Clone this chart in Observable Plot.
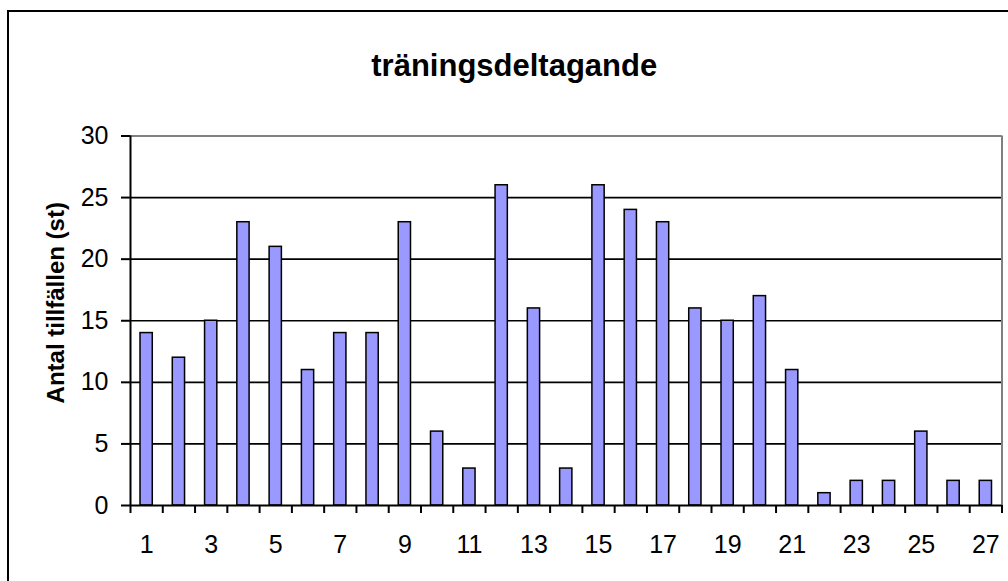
<!DOCTYPE html>
<html>
<head>
<meta charset="utf-8">
<script src="https://cdn.jsdelivr.net/npm/d3@7"></script>
<script src="https://cdn.jsdelivr.net/npm/@observablehq/plot@0.6"></script>
<style>
  html, body { margin: 0; padding: 0; background: #fff; }
  #wrap { position: relative; width: 1008px; height: 581px; overflow: hidden; }
  #frame { position: absolute; left: 7px; top: 10px; width: 1030px; height: 620px; border: 2px solid #000; box-sizing: border-box; pointer-events: none; }
  #chart { position: absolute; left: 0; top: 0; }
</style>
</head>
<body>
<div id="wrap"><div id="chart"></div><div id="frame"></div></div>
<script>
const title = "träningsdeltagande";
const yLabel = "Antal tillfällen (st)";
const categories = [1,2,3,4,5,6,7,8,9,10,11,12,13,14,15,16,17,18,19,20,21,22,23,24,25,26,27];
const values = [14,12,15,23,21,11,14,14,23,6,3,26,16,3,26,24,23,16,15,17,11,1,2,2,6,2,2];
const yTicks = [0,5,10,15,20,25,30];
const xLabels = [1,3,5,7,9,11,13,15,17,19,21,23,25,27];

const data = categories.map((c, i) => ({cat: c, v: values[i]}));
const boundaries = categories.map(c => c - 0.5).concat([categories[categories.length - 1] + 0.5]);
const halfBar = 0.19;

const chart = Plot.plot({
  width: 1008,
  height: 581,
  marginLeft: 130,
  marginRight: 6.5,
  marginTop: 135.5,
  marginBottom: 76,
  style: {fontFamily: "'Liberation Sans', Arial, sans-serif", fontSize: "24px", background: "transparent", color: "#000"},
  x: {type: "linear", domain: [0.5, 27.5]},
  y: {domain: [0, 30]},
  marks: [
    Plot.ruleY(yTicks.filter(t => t > 0 && t < 30), {stroke: "#000", strokeWidth: 1.6}),
    Plot.ruleY([30], {stroke: "#808080", strokeWidth: 2}),
    Plot.ruleX([27.5], {stroke: "#808080", strokeWidth: 2}),
    Plot.rectY(data, {x1: d => d.cat - halfBar, x2: d => d.cat + halfBar, y1: 0, y2: "v", fill: "#9999FF", stroke: "#000", strokeWidth: 1.5}),
    Plot.ruleY([0], {stroke: "#000", strokeWidth: 2}),
    Plot.ruleX([0.5], {y1: 0, y2: 30, stroke: "#000", strokeWidth: 2}),
    Plot.axisY({ticks: yTicks, tickSize: 9, tickPadding: 13, tickFormat: d => String(d), fontSize: 25, strokeWidth: 2, label: null}),
    Plot.axisX({ticks: boundaries, tickSize: 8, tickFormat: () => "", strokeWidth: 2, label: null}),
    Plot.axisX({ticks: xLabels, tickSize: 0, tickPadding: 30, tickFormat: d => String(d), fontSize: 25, label: null}),
    Plot.text([title], {text: d => d, frameAnchor: "top", textAnchor: "middle", dx: -52, dy: -82.5, fontSize: 31, fontWeight: "bold"}),
    Plot.text([yLabel], {text: d => d, frameAnchor: "left", textAnchor: "middle", rotate: -90, dx: -74, dy: -18, fontSize: 24, fontWeight: "bold"})
  ]
});
document.getElementById("chart").appendChild(chart);
</script>
</body>
</html>
